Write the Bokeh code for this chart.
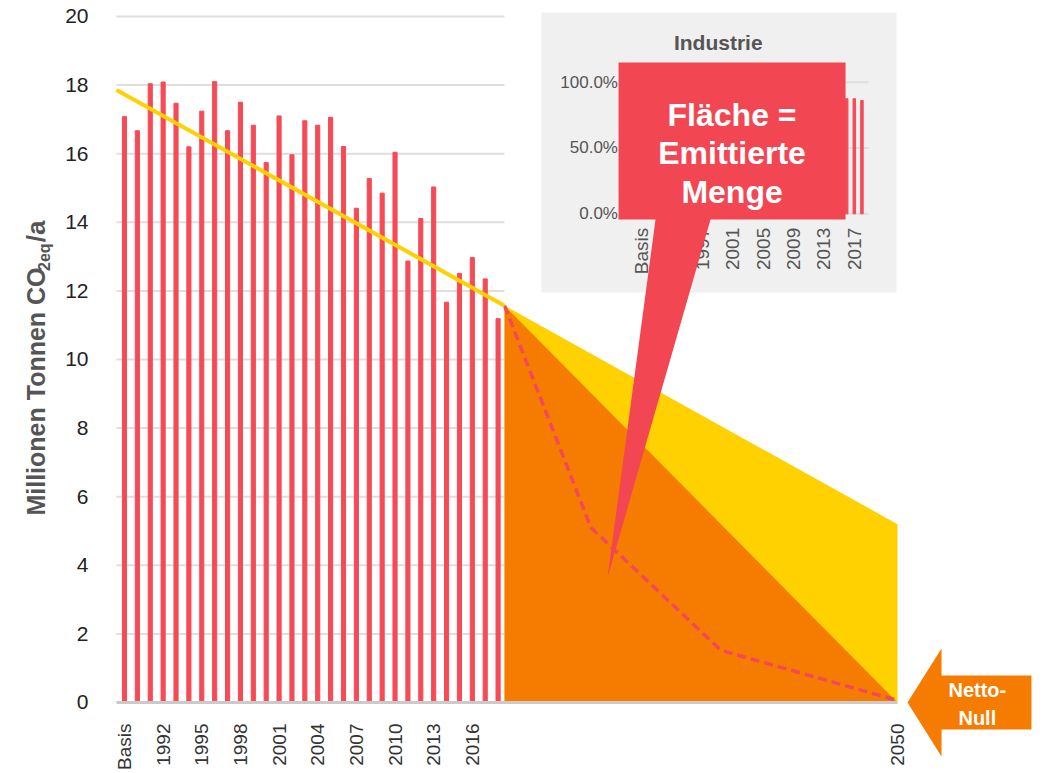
import math
from bokeh.plotting import figure
from bokeh.models import Range1d, FixedTicker, Label, PolyAnnotation
from bokeh.core.properties import value
from bokeh.embed import file_html
from bokeh.resources import INLINE

# ---------------- data ----------------
bar_labels = ["Basis", "1990", "1991", "1992", "1993", "1994", "1995", "1996", "1997", "1998",
              "1999", "2000", "2001", "2002", "2003", "2004", "2005", "2006", "2007", "2008",
              "2009", "2010", "2011", "2012", "2013", "2014", "2015", "2016", "2017", "2018"]
emissions = [17.08, 16.67, 18.04, 18.09, 17.47, 16.20, 17.24, 18.10, 16.67, 17.50,
             16.83, 15.74, 17.10, 15.97, 16.96, 16.83, 17.06, 16.21, 14.41, 15.28,
             14.85, 16.04, 12.87, 14.11, 15.03, 11.67, 12.51, 12.97, 12.35, 11.19]
bar_slots = list(range(len(emissions)))

# linear target path (yellow line) over the history
trend_x = [-0.62, 29.5]
trend_y = [17.86, 11.57]
# future: continuation of trend (yellow) and straight line to net zero (orange)
future_x = [29.5, 60.0]
future_trend = [11.57, 5.20]
future_netzero = [11.57, 0.0]
# dashed reduction path
path_x = [29.5, 36.2, 46.3, 60.0]
path_y = [11.57, 5.10, 1.52, 0.06]

x_ticks = [0, 3, 6, 9, 12, 15, 18, 21, 24, 27, 60]
end_label = "2050"
y_ticks = [0, 2, 4, 6, 8, 10, 12, 14, 16, 18, 20]

# inset "Industrie" (share of base year)
inset_slots = [27, 28, 29]
inset_share = [0.874, 0.874, 0.861]
inset_x_ticks = [0, 4, 8, 12, 16, 20, 24, 28]
inset_x_labels = ["Basis", "1993", "1997", "2001", "2005", "2009", "2013", "2017"]
inset_y_ticks = [0.0, 0.5, 1.0]
inset_y_labels = ["0.0%", "50.0%", "100.0%"]

# ---------------- colours ----------------
RED = "#F44B57"
CALLOUT = "#F24652"
YELLOW = "#FFD100"
ORANGE = "#F57C00"
GRID = "#DEDEDE"
GREY_TXT = "#555555"
FONT = "Liberation Sans"

X0, X1 = -0.62, 60.0  # visible data extent of the main chart

p = figure(width=1043, height=773,
           x_range=Range1d(-9.624, 71.335), y_range=Range1d(-2.070, 20.466),
           output_backend="svg", toolbar_location=None, min_border=0)
p.outline_line_color = None
p.xgrid.visible = False
p.ygrid.visible = False
p.background_fill_color = "white"
p.border_fill_color = "white"

# inset ranges
p.extra_x_ranges = {"ix": Range1d(-84.34, 52.89)}
p.extra_y_ranges = {"iy": Range1d(-4.253, 1.6208)}

# x axis (drawn at y = 0 inside the canvas)
xa = p.xaxis[0]
xa.fixed_location = 0
xa.bounds = (X0, X1)
xa.ticker = FixedTicker(ticks=x_ticks)
overrides = {t: bar_labels[t] for t in x_ticks if t < len(bar_labels)}
overrides[60] = end_label
xa.major_label_overrides = overrides
xa.major_label_orientation = math.pi / 2
xa.major_label_text_font = FONT
xa.major_label_text_font_size = "19px"
xa.major_label_text_color = "#333333"
xa.major_label_standoff = 15
xa.major_tick_line_color = None
xa.minor_tick_line_color = None
xa.axis_line_color = "#CACACA"
xa.axis_line_width = 3

# y axis (drawn at the left edge of the chart)
ya = p.yaxis[0]
ya.fixed_location = X0
ya.bounds = (0, 20)
ya.ticker = FixedTicker(ticks=y_ticks)
ya.major_label_text_font = FONT
ya.major_label_text_font_size = "21px"
ya.major_label_text_color = "#222222"
ya.major_label_standoff = 22
ya.major_tick_line_color = None
ya.minor_tick_line_color = None
ya.axis_line_color = None

# grid lines over the history only
p.segment(x0=[X0] * len(y_ticks), x1=[future_x[0]] * len(y_ticks),
          y0=y_ticks, y1=y_ticks, line_color=GRID, line_width=2)

# bars
p.vbar(x=bar_slots, top=emissions, width=0.32, color=RED)

# future areas
p.varea(x=future_x, y1=[0, 0], y2=future_trend, fill_color=YELLOW)
p.varea(x=future_x, y1=[0, 0], y2=future_netzero, fill_color=ORANGE)
p.line(x=path_x, y=path_y, line_color="#F2495A", line_width=3.5, line_dash="9 5")
p.line(x=trend_x, y=trend_y, line_color=YELLOW, line_width=4)

# ---------------- inset ----------------
p.quad(left=-13.16, right=33.55, bottom=-0.598, top=1.53, fill_color="#F0F0F0",
       line_color=None, x_range_name="ix", y_range_name="iy")
p.segment(x0=[-2.8] * 3, x1=[29.9] * 3, y0=inset_y_ticks, y1=inset_y_ticks,
          line_color=GRID, line_width=2, x_range_name="ix", y_range_name="iy")
p.vbar(x=inset_slots, top=inset_share, width=0.33, color=RED,
       x_range_name="ix", y_range_name="iy")
p.text(x=[-3.1] * 3, y=inset_y_ticks, text=inset_y_labels, text_align="right",
       text_baseline="middle", text_font=value(FONT), text_font_size="17px",
       text_color=GREY_TXT, x_range_name="ix", y_range_name="iy")
p.text(x=inset_x_ticks, y=[0] * len(inset_x_ticks), text=inset_x_labels, angle=math.pi / 2,
       text_align="right", text_baseline="middle", y_offset=14,
       text_font=value(FONT), text_font_size="19px", text_color=GREY_TXT,
       x_range_name="ix", y_range_name="iy")
p.text(x=[10.1], y=[1.30], text=["Industrie"], text_align="center", text_baseline="middle",
       text_font=value(FONT), text_font_size="21px", text_font_style="bold",
       text_color=GREY_TXT, x_range_name="ix", y_range_name="iy")

# ---------------- callout ----------------
p.patch(x=[38.35, 55.97, 55.97, 45.49, 37.49, 41.22, 38.35],
        y=[18.66, 18.66, 14.08, 14.08, 3.64, 14.08, 14.08],
        fill_color=CALLOUT, line_color=None)
p.text(x=[47.16] * 3, y=[17.14, 16.01, 14.87], text=["Fläche =", "Emittierte", "Menge"],
       text_align="center", text_baseline="alphabetic", text_font=value(FONT),
       text_font_size="32px", text_font_style="bold", text_color="white")

# ---------------- Netto-Null arrow ----------------
arrow = PolyAnnotation(xs=[60.78, 63.42, 63.42, 70.4, 70.4, 63.42, 63.42],
                       ys=[0, 1.574, 0.787, 0.787, -0.787, -0.787, -1.574],
                       fill_color=ORANGE, fill_alpha=1, line_color=None)
p.add_layout(arrow)
for txt, yy in (("Netto-", 0.35), ("Null", -0.44)):
    p.add_layout(Label(x=66.2, y=yy, text=txt, text_align="center", text_baseline="middle",
                       text_font=FONT, text_font_size="20px", text_font_style="bold",
                       text_color="white"))

# ---------------- y axis title ----------------
p.add_layout(Label(x=-6.876, y=5.45, text="Millionen Tonnen CO", angle=math.pi / 2,
                   text_align="left", text_baseline="middle", text_font=FONT,
                   text_font_size="25px", text_font_style="bold", text_color=GREY_TXT))
p.add_layout(Label(x=-6.2, y=12.58, text="2eq", angle=math.pi / 2,
                   text_align="left", text_baseline="middle", text_font=FONT,
                   text_font_size="16px", text_font_style="bold", text_color=GREY_TXT))
p.add_layout(Label(x=-6.876, y=13.42, text="/a", angle=math.pi / 2,
                   text_align="left", text_baseline="middle", text_font=FONT,
                   text_font_size="26px", text_font_style="bold", text_color=GREY_TXT))

open("out.html", "w").write(file_html(p, INLINE))
